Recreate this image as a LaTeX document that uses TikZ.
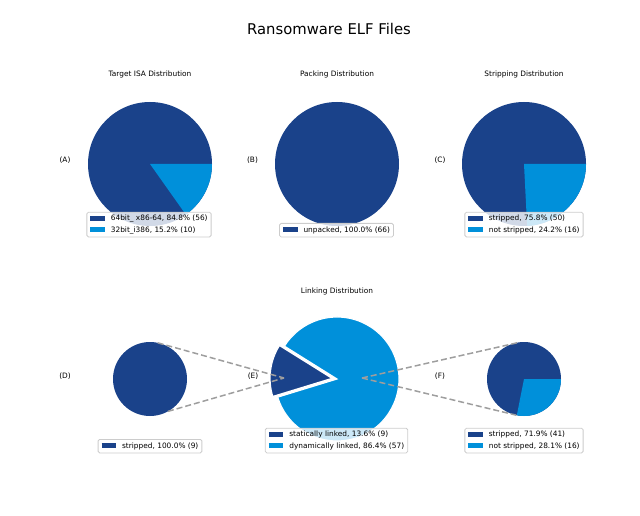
\documentclass[tikz,border=0pt]{standalone}
\usepackage{fontspec}
\setmainfont{DejaVu Sans}
\usepackage{tikz}
\usetikzlibrary{positioning}
\definecolor{darkblue}{RGB}{26,66,138}
\definecolor{lightblue}{RGB}{0,144,218}
\definecolor{linkgray}{RGB}{158,158,158}
\definecolor{legendgray}{RGB}{204,204,204}
\newcommand{\legpatch}[1]{\textcolor{#1}{\rule[0.2pt]{14.5pt}{5pt}}\rule[-2.3pt]{0pt}{8.6pt}\hspace{6pt}}
\tikzstyle{pie} = [circle, inner sep=0pt, outer sep=0pt, minimum size=124pt]
\tikzstyle{smallpie} = [circle, inner sep=0pt, outer sep=0pt, minimum size=74pt]
\tikzstyle{figtitle} = [inner sep=0pt, font=\fontsize{14.8}{17}\selectfont]
\tikzstyle{subtitle} = [inner sep=0pt, font=\fontsize{7.4}{9}\selectfont]
\tikzstyle{paneltag} = [inner sep=0pt, font=\fontsize{7.4}{9}\selectfont]
\tikzstyle{legendbox} = [draw=legendgray, line width=0.8pt, fill=white, fill opacity=0.8, text opacity=1, rounded corners=1.5pt, inner xsep=3.5pt, inner ysep=2.45pt, align=left, anchor=south, font=\fontsize{7.4}{11.2}\selectfont]
\tikzstyle{zoomline} = [linkgray, line width=1.5pt, dash pattern=on 6pt off 3pt]
\tikzstyle{wedgeline} = [draw=white, line width=1.2pt]

\begin{document}
\begin{tikzpicture}[x=1pt, y=1pt]
	\useasboundingbox (0,0) rectangle (640,515);
	\node (Title) [figtitle] at (329,486) {Ransomware ELF Files};
	
	% top row
	\node (PieA) [pie, fill=darkblue] at (150,351) {};
	\node (PieB) [pie, fill=darkblue, right = 63pt of PieA] {};
	\node (PieC) [pie, fill=darkblue, right = 63pt of PieB] {};
	\fill[lightblue] (PieA.center) -- (PieA.0) arc[start angle=0, end angle=-54.7, radius=62] -- cycle;
	\fill[lightblue] (PieC.center) -- (PieC.0) arc[start angle=0, end angle=-87.1, radius=62] -- cycle;
	
	\node (TitleA) [subtitle, above = 23.5pt of PieA] {Target ISA Distribution};
	\node (TitleB) [subtitle, above = 23.5pt of PieB] {Packing Distribution};
	\node (TitleC) [subtitle, above = 23.5pt of PieC] {Stripping Distribution};
	
	\node (TagA) [paneltag] at (65,355) {(A)};
	\node (TagB) [paneltag] at (252.5,355) {(B)};
	\node (TagC) [paneltag] at (440,355) {(C)};
	
	\node (LegA) [legendbox] at (149,277.7) {\legpatch{darkblue}64bit\_ x86-64, 84.8\% (56)\\\legpatch{lightblue}32bit\_i386, 15.2\% (10)};
	\node (LegB) [legendbox] at (336.5,277.7) {\legpatch{darkblue}unpacked, 100.0\% (66)};
	\node (LegC) [legendbox] at (524,277.7) {\legpatch{darkblue}stripped, 75.8\% (50)\\\legpatch{lightblue}not stripped, 24.2\% (16)};
	
	% bottom row
	\node (PieE) [pie] at (337,136) {};
	\node (PieD) [smallpie, fill=darkblue, left = 88pt of PieE] {};
	\node (PieF) [smallpie, fill=darkblue, right = 88pt of PieE] {};
	\fill[lightblue] (PieF.center) -- (PieF.0) arc[start angle=0, end angle=-101.2, radius=37] -- cycle;
	
	\coordinate (Apex) at ([shift={(172.5:5)}]PieE.center);
	\fill[lightblue, wedgeline] (PieE.center) -- +(197:62) arc[start angle=197, end angle=508, radius=62] -- cycle;
	\fill[darkblue, wedgeline] (Apex) -- +(148:62) arc[start angle=148, end angle=197, radius=62] -- cycle;
	
	\coordinate (LinkL) at (284,137);
	\coordinate (LinkR) at (362,137);
	\draw[zoomline] (PieD.78) -- (LinkL);
	\draw[zoomline] (PieD.-61) -- (LinkL);
	\draw[zoomline] (LinkR) -- (PieF.97);
	\draw[zoomline] (LinkR) -- (PieF.258);
	
	\node (TitleE) [subtitle, above = 22pt of PieE] {Linking Distribution};
	
	\node (TagD) [paneltag] at (65,139) {(D)};
	\node (TagE) [paneltag] at (253,139) {(E)};
	\node (TagF) [paneltag] at (440,139) {(F)};
	
	\node (LegD) [legendbox] at (150,61.7) {\legpatch{darkblue}stripped, 100.0\% (9)};
	\node (LegE) [legendbox] at (336.5,61.7) {\legpatch{darkblue}statically linked, 13.6\% (9)\\\legpatch{lightblue}dynamically linked, 86.4\% (57)};
	\node (LegF) [legendbox] at (524,61.7) {\legpatch{darkblue}stripped, 71.9\% (41)\\\legpatch{lightblue}not stripped, 28.1\% (16)};
\end{tikzpicture}
\end{document}
